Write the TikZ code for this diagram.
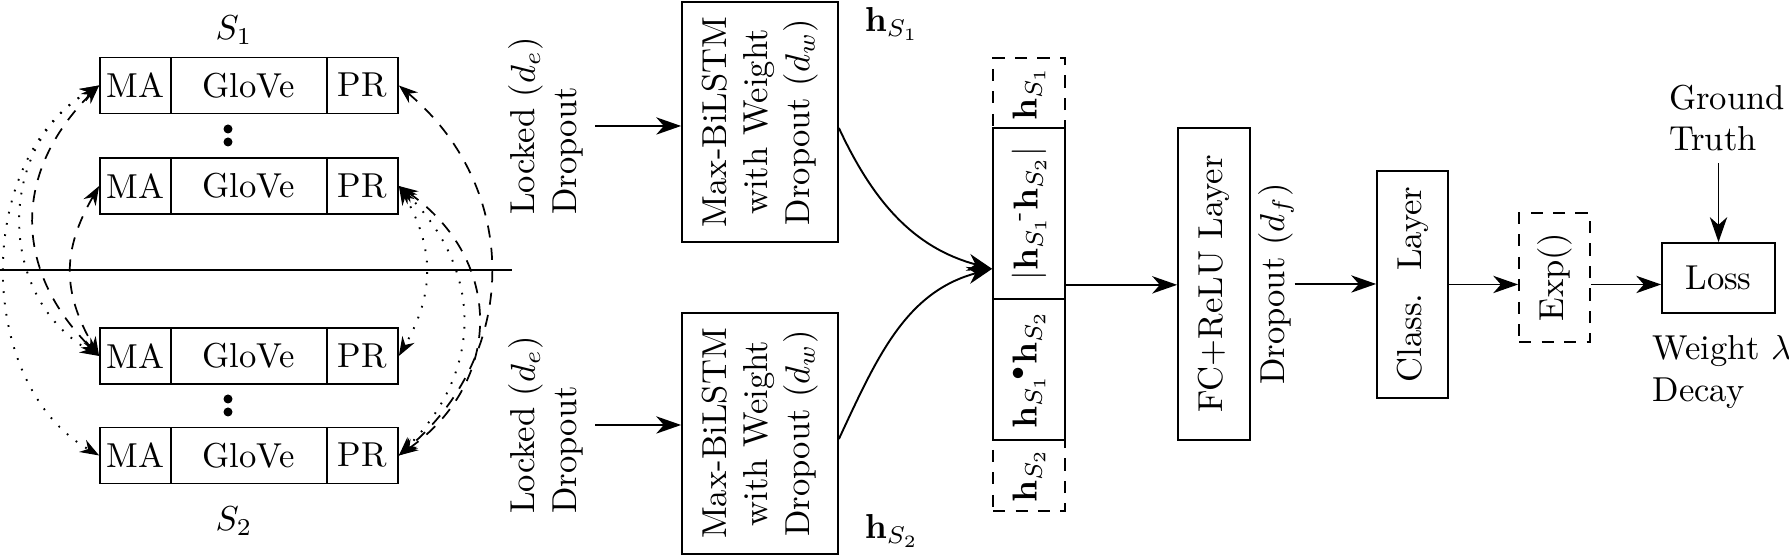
\documentclass[tikz,border=0pt]{standalone}
\usepackage{amsmath}
\usetikzlibrary{arrows.meta,calc}
\newcommand\pxu{0.289pt}
\begin{document}
\begin{tikzpicture}[x=0.289pt,y=0.289pt,
  box/.style={draw, inner sep=0pt, line width=0.5pt},
  cell/.style={box, minimum height=56*\pxu},
  rot/.style={rotate=90},
  dbox/.style={draw, dash pattern=on 3.5pt off 3pt, inner sep=0pt, line width=0.5pt},
  arr/.style={line width=0.55pt, -{Stealth[length=7.2pt,width=5pt,inset=2.2pt]}},
  dasharc/.style={line width=0.5pt, {Stealth[length=5.5pt,width=4pt,inset=1.8pt]}-{Stealth[length=5.5pt,width=4pt,inset=1.8pt]}, dash pattern=on 3.5pt off 3pt},
  dotarc/.style={line width=0.55pt, {Stealth[length=5.5pt,width=4pt,inset=1.8pt]}-{Stealth[length=5.5pt,width=4pt,inset=1.8pt]}, dash pattern=on 0.5pt off 2.8pt}
]
\useasboundingbox (0,0) rectangle (1789,556);

% left token boxes
\foreach \r/\yy in {1/470.5,2/370,3/200,4/100.5}{
  \node[cell, minimum width=71*\pxu] (a\r) at (135.5,\yy) {MA};
  \node[cell, minimum width=156*\pxu] (g\r) at (249,\yy) {GloVe};
  \node[cell, minimum width=71*\pxu] (p\r) at (362.5,\yy) {PR};
}
\node (s1) at (234,526) {$S_1$};
\node (s2) at (234,35) {$S_2$};
\fill (228,427) circle[radius=1.3pt];
\fill (228,414) circle[radius=1.3pt];
\fill (228,157) circle[radius=1.3pt];
\fill (228,144) circle[radius=1.3pt];
\draw[line width=0.5pt] (0,286) -- (512,286);

% arcs left
\draw[dotarc] (a1.west) to[out=210,in=150,looseness=1.0] (a4.west);
\draw[dotarc] (a1.west) to[out=210,in=150,looseness=1.13] (a3.west);
\draw[dasharc] (a1.west) to[out=225,in=135,looseness=1.16] (a3.west);
\draw[dasharc] (a2.west) to[out=240,in=120,looseness=1.12] (a3.west);
% arcs right
\draw[dasharc] (p1.east) to[out=-40,in=40,looseness=1.1] (p4.east);
\draw[dasharc] (p2.east) to[out=-35,in=35,looseness=1.22] (p4.east);
\draw[dotarc] (p2.east) to[out=-45,in=45,looseness=1.14] (p4.east);
\draw[dotarc] (p2.east) to[out=-60,in=60,looseness=1.08] (p3.east);

% locked dropout
\node[rot, align=left] (lk1) at (546,430) {Locked ($d_e$)\\Dropout};
\node[rot, align=left] (lk2) at (546,131) {Locked ($d_e$)\\Dropout};

% Max-BiLSTM boxes
\node[box, minimum width=156*\pxu, minimum height=240*\pxu] (max1) at (760,434) {};
\node[rot, align=center] at (max1) {Max-BiLSTM\\with Weight\\Dropout ($d_w$)};
\node[box, minimum width=156*\pxu, minimum height=241*\pxu] (max2) at (760,122.5) {};
\node[rot, align=center] at (max2) {Max-BiLSTM\\with Weight\\Dropout ($d_w$)};

\draw[arr] (lk1.south) -- (lk1.south -| max1.west);
\draw[arr] (lk2.south) -- (lk2.south -| max2.west);

\node (hs1) at (892,532) {$\mathbf{h}_{S_1}$};
\node (hs2) at (892,25) {$\mathbf{h}_{S_2}$};

% concatenation
\node[dbox, minimum width=72*\pxu, minimum height=70*\pxu] (c1) at (1029,463) {};
\node[dbox, minimum width=72*\pxu, minimum height=71*\pxu] (c4) at (1029,80.5) {};
\node[box, minimum width=72*\pxu, minimum height=171*\pxu] (c2) at (1029,342.5) {};
\node[box, minimum width=72*\pxu, minimum height=141*\pxu] (c3) at (1029,186.5) {};
\node[rot] at (c1) {$\mathbf{h}_{S_1}$};
\node[rot] at (c2) {$|\mathbf{h}_{S_1}\!{}^{\text{-}}\mathbf{h}_{S_2}|$};
\node[rot] at (c3) {$\mathbf{h}_{S_1}\!{}^{\bullet}\mathbf{h}_{S_2}$};
\node[rot] at (c4) {$\mathbf{h}_{S_2}$};

\coordinate (cin) at ($(c2.south west)+(0,31)$);
\coordinate (cout) at ($(c2.south east)+(0,15)$);
\draw[arr] ([yshift=-1.73pt]max1.east) to[out=-65,in=165] (cin);
\draw[arr] ([yshift=-1.6pt]max2.east) to[out=65,in=195] (cin);

% FC layer
\node[box, minimum width=72*\pxu, minimum height=312*\pxu] (fc) at (1214,272) {};
\node[rot] at (fc) {FC+ReLU Layer};
\draw[arr] (cout) -- (cout -| fc.west);

\node[rot, inner sep=0pt] (df) at (1276,272) {Dropout ($d_f$)};

\node[box, minimum width=71*\pxu, minimum height=227*\pxu] (cls) at (1412.5,271.5) {};
\node[rot] at (cls) {Class.\ \ Layer};
\draw[arr] (df.south) -- (df.south -| cls.west);

\node[dbox, minimum width=71*\pxu, minimum height=129*\pxu] (exp) at (1554.5,278.5) {};
\node[rot] at (exp) {Exp()};
\draw[arr] (cls.east) -- (cls.east -| exp.west);

\node[box, minimum width=113*\pxu, minimum height=70*\pxu] (loss) at (1718.5,278) {Loss};
\draw[arr] (exp.east |- cls.east) -- (loss.west |- cls.east);

\node[align=left] (gt) at (1727,438) {Ground\\Truth};
\draw[arr] (gt.south -| loss.north) -- (loss.north);

\node[align=left] (wd) at (1722,184) {Weight $\lambda$\\Decay};
\end{tikzpicture}
\end{document}
